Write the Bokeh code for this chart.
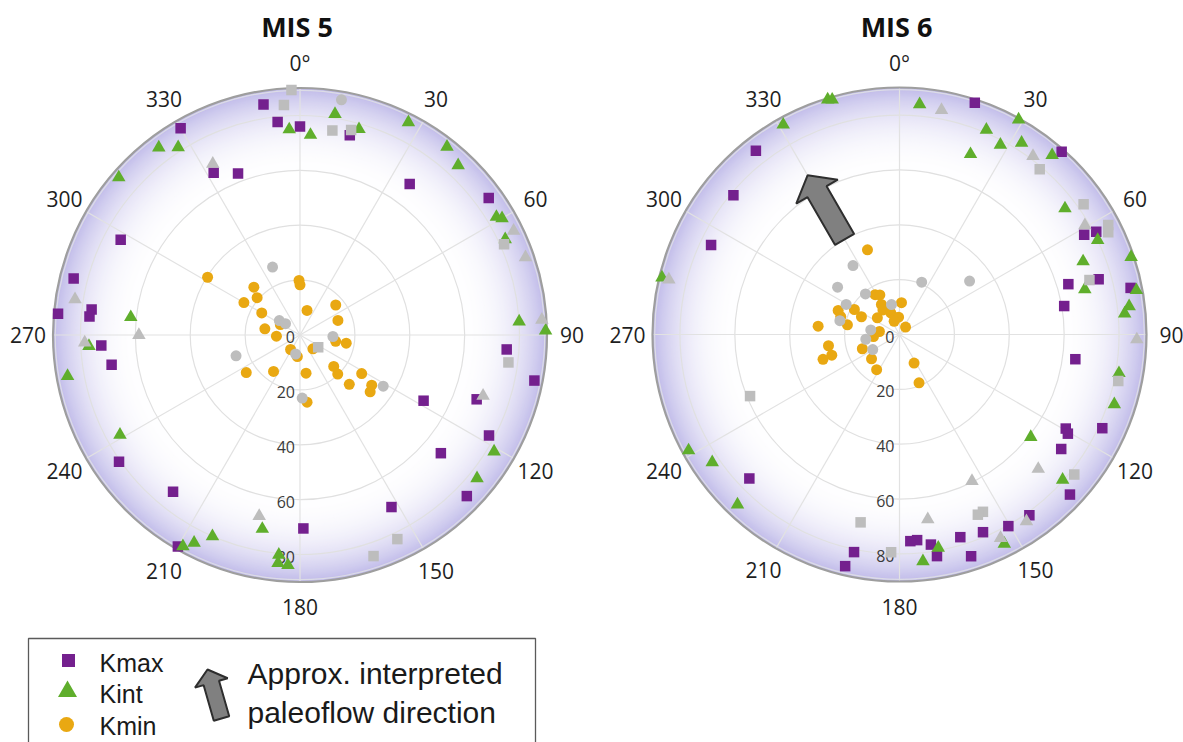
import numpy as np
from bokeh.plotting import figure
from bokeh.models import Range1d
from bokeh.core.properties import value
from bokeh.embed import file_html
from bokeh.resources import INLINE

# ---------------- data (declination / inclination in degrees) ----------------
titles = ["MIS 5", "MIS 6"]
angle_ticks = [0, 30, 60, 90, 120, 150, 180, 210, 240, 270, 300, 330]
angle_tick_labels = ["0°", "30", "60", "90", "120", "150", "180", "210", "240", "270", "300", "330"]
radial_ticks = [0, 20, 40, 60, 80]
legend_labels = ["Kmax", "Kint", "Kmin"]
arrow_label = ["Approx. interpreted", "paleoflow direction"]
paleoflow_dir = [330]
paleoflow_from_to = [40, 67]

mis5_kmax_dec = [351, 354, 0, 14, 330, 332, 339, 36, 54, 298, 284, 275, 277, 275, 267, 261, 94, 101, 110, 118, 118, 130, 134, 152, 179, 219, 235, 210]
mis5_kmax_inc = [85, 78, 76, 75, 87, 67, 63, 68, 85, 74, 85, 88.5, 76.5, 77, 72.5, 69.5, 75.5, 87, 68.5, 51, 78, 67, 84.5, 71, 70.5, 73.5, 80.5, 89]
mis5_kint_dec = [9, 357, 3, 16, 27, 38, 43, 59, 60, 65, 323, 327, 311, 276, 86.5, 89, 267, 260, 241, 121, 129, 191, 203.5, 207, 209, 185.5, 185.5, 183]
mis5_kint_inc = [81.5, 75, 73, 78, 87, 87, 84.5, 83.5, 85, 82.5, 85.5, 81.5, 87.5, 62, 80, 89.5, 77, 86, 75, 82.5, 83, 72, 80, 85, 88, 80.5, 83.5, 84]
mis5_kmin_dec = [302, 316, 311, 300, 300, 280, 267, 359, 0, 16, 50, 69, 100, 100, 298, 213, 187, 137, 133, 136, 122, 135, 125, 129, 171, 216, 235, 174]
mis5_kmin_inc = [39.7, 24.2, 20.7, 23.6, 16.1, 13, 8.6, 19.9, 18.3, 9.3, 17, 14.8, 13.2, 17.1, 8.1, 6.3, 7.9, 6.9, 16.8, 19.8, 26.5, 25.4, 31.9, 32.9, 14.1, 16.4, 23.9, 24.6]
mis5_grey_kmax_dec = [358, 356, 9, 14, 66, 124, 97.5, 154.5, 161.6]
mis5_grey_kmax_inc = [89.3, 84, 75.4, 77, 81.4, 8, 76.6, 82.4, 84.9]
mis5_grey_kint_dec = [333, 279, 64, 71, 86.4, 270, 268, 108.4, 192.7]
mis5_grey_kint_inc = [70, 83, 86.6, 86.9, 88.3, 58.7, 78.5, 70.3, 67.6]
mis5_grey_kmin_dec = [10, 338, 305, 308, 92.6, 193, 252, 121.6, 178]
mis5_grey_kmin_inc = [87, 26.7, 9.2, 6.7, 12, 7.1, 24.5, 35.6, 23]

mis6_kmax_dec = [18, 41.6, 322, 310, 295.4, 61.6, 62.4, 73.4, 74.5, 78.6, 80.2, 98, 119.5, 120.5, 114.8, 125.3, 133.2, 144.3, 150.4, 157.1, 163.3, 162.1, 170.4, 171.5, 175.1, 177, 191.8, 193.2, 226.2]
mis6_kmax_inc = [88.8, 89, 85, 79, 76, 76.5, 80.9, 64.2, 75.3, 85.9, 60.9, 64.7, 69.6, 71.2, 81.4, 72.2, 85.2, 81.1, 80.3, 78.2, 77.1, 84.9, 81.9, 77.4, 75.2, 75.4, 81, 86.7, 75.8]
mis6_kint_dec = [343, 344, 331, 5, 29, 23, 21.5, 28, 32.5, 40.4, 52.7, 64.5, 68.3, 71.5, 76.3, 79.4, 83, 84.7, 283.5, 100, 108, 128, 131.7, 153.4, 169.7, 174.1, 241.2, 235.7, 223.6]
mis6_kint_inc = [89.5, 89, 87.4, 84.2, 89.5, 81, 70.6, 78.3, 82.8, 85.8, 75.8, 80, 72, 89, 69.5, 87.8, 84.3, 82.4, 89, 81.2, 82.3, 60.7, 79.6, 85.3, 79, 83.1, 87.7, 82.6, 85.6]
mis6_kmin_dec = [339.3, 328.5, 333.6, 329, 326, 3.6, 338, 345, 357, 338, 39, 307, 295, 299, 291.4, 287, 280.5, 275.8, 278.5, 265.6, 261, 253, 252, 249, 229, 213, 153, 158]
mis6_kmin_inc = [33, 17, 16.1, 12.8, 10.8, 11.6, 8.5, 6.3, 6.3, 5.2, 3.5, 10.1, 15.3, 18.8, 24, 22.4, 19.3, 29.8, 7.4, 9.5, 26.2, 25.8, 29.3, 14.5, 13.5, 15.3, 11.7, 19]
mis6_grey_kmax_dec = [40.3, 54.7, 62.3, 63.9, 74, 102, 128.7, 154.8, 156.5, 191.7, 182.2, 247.6]
mis6_grey_kmax_inc = [79, 82.2, 85.9, 84.7, 72, 81.5, 81.6, 71.4, 71.6, 69.9, 79.4, 58.9]
mis6_grey_kint_dec = [10.6, 36.8, 59.5, 283.4, 91.2, 134.1, 153.7, 145.8, 153.6, 171.3]
mis6_grey_kint_inc = [83.2, 81.2, 78.4, 86.4, 86.5, 70.4, 59.6, 82.3, 82.8, 68.1]
mis6_grey_kmin_dec = [326, 307.4, 320, 299.4, 345, 283, 279, 262, 240.6, 23, 52.7]
mis6_grey_kmin_inc = [30.3, 28.4, 19.3, 22.3, 11.3, 22.3, 10.6, 12.4, 11.2, 20.7, 32.1]

# ---------------- styling ----------------
PURPLE = "#74208e"
GREEN = "#5fae2c"
ORANGE = "#e9a812"
GREY = "#bdbdbd"
FONT = value("Open Sans")
LFONT = value("Liberation Sans")

W, H = 1183, 742
p = figure(width=W, height=H, x_range=Range1d(0, W), y_range=Range1d(H, 0),
           output_backend="svg", toolbar_location=None, min_border=0)
p.axis.visible = False
p.grid.visible = False
p.outline_line_color = None
p.background_fill_color = "white"
p.border_fill_color = "white"

CENTERS = [(299.5, 334.5), (899.0, 334.0)]
R = 247.0


def proj(dec, inc, c):
    d = np.radians(np.asarray(dec, float))
    r = np.asarray(inc, float) / 90.0 * R
    return c[0] + r * np.sin(d), c[1] - r * np.cos(d)


edge = np.array([192, 187, 233], float)
n = 90
f0 = 0.6
fr = np.linspace(1.0, f0, n)
tt = (fr - f0) / (1 - f0)
cols = []
for t in tt:
    c = 255 - (255 - edge) * t ** 2.8
    cols.append("#%02x%02x%02x" % tuple(int(round(v)) for v in c))

datasets = [
    dict(kmax=(mis5_kmax_dec, mis5_kmax_inc), kint=(mis5_kint_dec, mis5_kint_inc), kmin=(mis5_kmin_dec, mis5_kmin_inc),
         gmax=(mis5_grey_kmax_dec, mis5_grey_kmax_inc), gint=(mis5_grey_kint_dec, mis5_grey_kint_inc),
         gmin=(mis5_grey_kmin_dec, mis5_grey_kmin_inc)),
    dict(kmax=(mis6_kmax_dec, mis6_kmax_inc), kint=(mis6_kint_dec, mis6_kint_inc), kmin=(mis6_kmin_dec, mis6_kmin_inc),
         gmax=(mis6_grey_kmax_dec, mis6_grey_kmax_inc), gint=(mis6_grey_kint_dec, mis6_grey_kint_inc),
         gmin=(mis6_grey_kmin_dec, mis6_grey_kmin_inc)),
]


def arrow_poly(tail, tip, shaft_hw, head_hw, head_len):
    tail = np.array(tail, float)
    tip = np.array(tip, float)
    d = tip - tail
    L = np.hypot(*d)
    u = d / L
    nrm = np.array([-u[1], u[0]])
    base = tip - u * head_len
    pts = [tail + nrm * shaft_hw, base + nrm * shaft_hw, base + nrm * head_hw, tip,
           base - nrm * head_hw, base - nrm * shaft_hw, tail - nrm * shaft_hw]
    return [q[0] for q in pts], [q[1] for q in pts]


for i, c in enumerate(CENTERS):
    cx, cy = c
    # gradient background
    p.circle(x=[cx] * n, y=[cy] * n, radius=list(fr * R), fill_color=cols, line_color=None)
    # rings
    rr = [t / 90 * R for t in radial_ticks[1:]]
    p.circle(x=[cx] * len(rr), y=[cy] * len(rr), radius=rr, fill_color=None,
             line_color="#e0e0e0", line_width=1.2)
    # spokes
    ex, ey = proj(angle_ticks, [90] * len(angle_ticks), c)
    p.segment(x0=[cx] * len(ex), y0=[cy] * len(ex), x1=list(ex), y1=list(ey),
              line_color="#e2e2e2", line_width=1.2)
    # outer border
    p.circle(x=[cx], y=[cy], radius=[R - 2.2], fill_color=None, line_color="#dcdce6", line_width=1.2)
    p.circle(x=[cx], y=[cy], radius=[R], fill_color=None, line_color="#9e9e9e", line_width=2.2)
    # angle labels
    lx, ly = proj(angle_ticks, [272 / R * 90] * len(angle_ticks), c)
    p.text(x=list(lx), y=list(ly), text=angle_tick_labels, text_font=FONT,
           text_font_size="21px", text_align="center", text_baseline="middle", text_color="#1e1e1e")
    # radial labels
    p.text(x=[cx - 5] * len(radial_ticks), y=[cy + t / 90 * R + 2 for t in radial_ticks],
           text=[str(t) for t in radial_ticks], text_font=FONT, text_font_size="16px",
           text_align="right", text_baseline="middle", text_color="#3a3a3a")
    # title
    p.text(x=[cx - 3], y=[26], text=[titles[i]], text_font=FONT, text_font_size="27px",
           text_font_style="bold", text_align="center", text_baseline="middle", text_color="#111111")

    ds = datasets[i]
    x, y = proj(*ds["kmax"], c)
    p.scatter(x=x, y=y, marker="square", size=10.5, fill_color=PURPLE, line_color=None)
    x, y = proj(*ds["kint"], c)
    p.scatter(x=x, y=y, marker="triangle", size=13.5, fill_color=GREEN, line_color=None)
    x, y = proj(*ds["kmin"], c)
    p.scatter(x=x, y=y, marker="circle", size=11, fill_color=ORANGE, line_color=None)
    x, y = proj(*ds["gmax"], c)
    p.scatter(x=x, y=y, marker="square", size=10.5, fill_color=GREY, line_color=None)
    x, y = proj(*ds["gint"], c)
    p.scatter(x=x, y=y, marker="triangle", size=13.5, fill_color=GREY, line_color=None)
    x, y = proj(*ds["gmin"], c)
    p.scatter(x=x, y=y, marker="circle", size=11, fill_color=GREY, line_color=None)

# paleoflow arrow on MIS 6
c6 = CENTERS[1]
tx, ty = proj(paleoflow_dir, [paleoflow_from_to[0]], c6)
hx, hy = proj(paleoflow_dir, [paleoflow_from_to[1]], c6)
ax, ay = arrow_poly((tx[0], ty[0]), (hx[0], hy[0]), 11, 24, 19)
p.patch(x=ax, y=ay, fill_color="#808080", line_color="#2e2e2e", line_width=2)

# legend box
p.quad(left=[28], right=[535], top=[638], bottom=[760], fill_color="white",
       line_color="#5a5a5a", line_width=1.3)
p.scatter(x=[68], y=[660], marker="square", size=13, fill_color=PURPLE, line_color=None)
p.scatter(x=[67], y=[691], marker="triangle", size=19, fill_color=GREEN, line_color=None)
p.scatter(x=[66], y=[724], marker="circle", size=15, fill_color=ORANGE, line_color=None)
p.text(x=[99, 99, 99], y=[662, 693, 725], text=legend_labels, text_font=LFONT,
       text_font_size="25px", text_align="left", text_baseline="middle", text_color="#1a1a1a")
lax, lay = arrow_poly((221, 718), (207, 669), 8, 17, 14)
p.patch(x=lax, y=lay, fill_color="#808080", line_color="#2e2e2e", line_width=2)
p.text(x=[247, 247], y=[673, 712], text=arrow_label, text_font=LFONT,
       text_font_size="30px", text_align="left", text_baseline="middle", text_color="#1a1a1a")

open("out.html", "w").write(file_html(p, INLINE))
